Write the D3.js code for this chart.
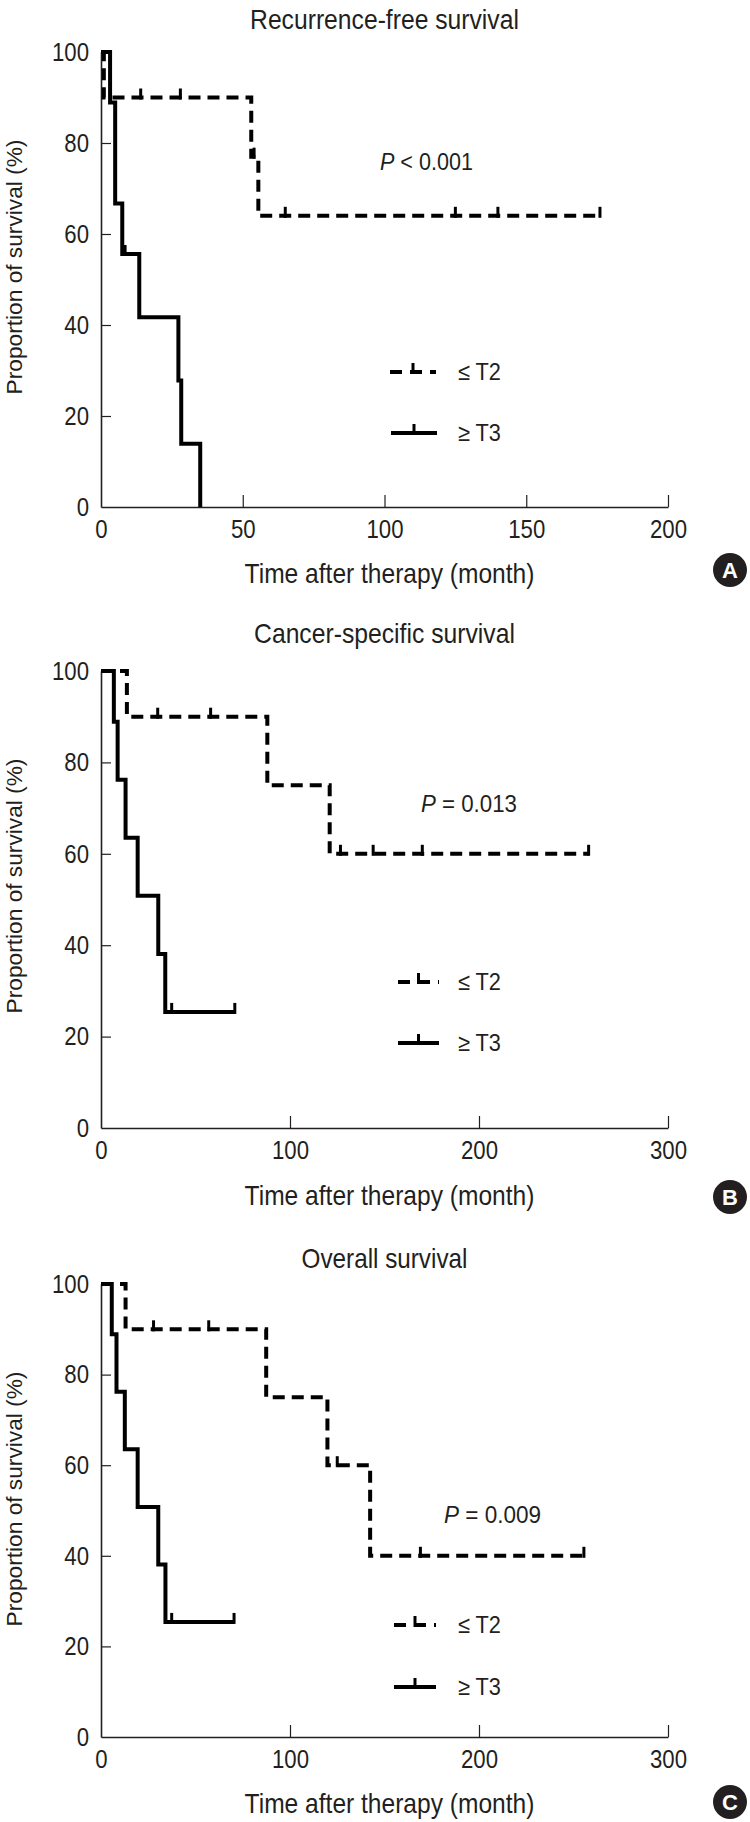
<!DOCTYPE html>
<html>
<head>
<meta charset="utf-8">
<script src="https://cdn.jsdelivr.net/npm/d3@7"></script>
<style>
  html, body { margin: 0; padding: 0; background: #fff; }
  svg { display: block; }
  .nar { font-family: "Liberation Sans", Arial, sans-serif; fill: #231f20; }
  .reg { font-family: "Liberation Sans", Arial, sans-serif; fill: #231f20; }
</style>
</head>
<body>
<svg id="chart" width="750" height="1822"></svg>
<script>
// ---------- data ----------
const panelTitles = ["Recurrence-free survival", "Cancer-specific survival", "Overall survival"];
const panelLetters = ["A", "B", "C"];
const pSymbol = "P";
const pValues = ["< 0.001", "= 0.013", "= 0.009"];
const groupLabels = ["\u2264 T2", "\u2265 T3"];
const yTicks = [0, 20, 40, 60, 80, 100];
const xTicksA = [0, 50, 100, 150, 200];
const xTicksBC = [0, 100, 200, 300];
const xAxisTitle = "Time after therapy (month)";
const yAxisTitle = "Proportion of survival (%)";

// Recurrence-free survival
const rfsT2Time = [0, 1, 53, 55.5, 176];
const rfsT2Surv = [100, 90, 77, 64, 64];
const rfsT2Censor = [14, 28, 54, 65, 125, 140, 176];
const rfsT3Time = [0, 3.2, 5, 7.5, 13.5, 27.3, 28.3, 35];
const rfsT3Surv = [100, 88.9, 66.7, 55.6, 41.7, 27.8, 13.9, 0];
const rfsT3Censor = [8.5];

// Cancer-specific survival
const cssT2Time = [0, 13.7, 88, 121, 258];
const cssT2Surv = [100, 90, 75, 60, 60];
const cssT2Censor = [30, 58, 126.7, 144, 170, 258];
const cssT3Time = [0, 6.8, 8.8, 13, 19.4, 30.3, 34, 70.8];
const cssT3Surv = [100, 88.9, 76.2, 63.5, 50.8, 38.1, 25.4, 25.4];
const cssT3Censor = [37.4, 70.8];

// Overall survival
const osT2Time = [0, 13, 87.4, 119.8, 142.4, 255.5];
const osT2Surv = [100, 90, 75, 60, 40, 40];
const osT2Censor = [27.8, 57, 125, 169, 255.5];
const osT3Time = [0, 5.7, 8.2, 12.6, 19.4, 30.3, 34.1, 70.4];
const osT3Surv = [100, 88.9, 76.2, 63.5, 50.8, 38.1, 25.4, 25.4];
const osT3Censor = [37.4, 70.4];

// ---------- layout ----------
const INK = "#231f20";
const X0 = 101, X1 = 668;
const layouts = [
  { y100: 52, y0: 507, titleY: 29, titleW: 269, xLabY: 583, circ: [730, 570], pPos: [380, 170], pW: 93,
    leg: [[390, 436, 372], [391, 437, 433]], xMax: 200, xTicks: xTicksA,
    series: [[rfsT2Time, rfsT2Surv, rfsT2Censor], [rfsT3Time, rfsT3Surv, rfsT3Censor]] },
  { y100: 671, y0: 1128, titleY: 643, titleW: 261, xLabY: 1205, circ: [730, 1197], pPos: [421, 812], pW: 96,
    leg: [[398, 439, 982], [398, 439, 1043]], xMax: 300, xTicks: xTicksBC,
    series: [[cssT2Time, cssT2Surv, cssT2Censor], [cssT3Time, cssT3Surv, cssT3Censor]] },
  { y100: 1284, y0: 1737, titleY: 1268, titleW: 166, xLabY: 1813, circ: [730, 1802], pPos: [444, 1523], pW: 97,
    leg: [[394, 436, 1625], [394, 436, 1687]], xMax: 300, xTicks: xTicksBC,
    series: [[osT2Time, osT2Surv, osT2Censor], [osT3Time, osT3Surv, osT3Censor]] }
];
const DASH = "12,7";
const LW = 4;
const CENS_H = 9;
const TICK_FS = 26, TICK_W3 = 37;   // width of a 3-digit tick label
const TITLE_FS = 27, XLAB_W = 290, YLAB_FS = 23, YLAB_W = 255, YLAB_OFF = 215;
const P_FS = 24, LEG_FS = 24, LEG_W = 43;

const svg = d3.select("#chart");
svg.append("rect").attr("width", 750).attr("height", 1822).attr("fill", "#fff");

function stepValue(times, surv, t) {
  let v = surv[0];
  for (let i = 0; i < times.length; i++) if (times[i] <= t) v = surv[i];
  return v;
}
// horizontally squeeze a text element about its anchor x so that it has the target width
function fitX(sel, target, ax) {
  const w = sel.node().getComputedTextLength();
  if (!w) return 1;
  const k = target / w;
  sel.attr("transform", `translate(${ax},0) scale(${k},1) translate(${-ax},0)`);
  return k;
}
// measure tick digit squeeze
const probe = svg.append("text").attr("class", "nar").attr("font-size", TICK_FS).text("200");
const tickK = TICK_W3 / probe.node().getComputedTextLength();
probe.remove();

layouts.forEach((L, pi) => {
  const g = svg.append("g");
  const x = d3.scaleLinear().domain([0, L.xMax]).range([X0, X1]);
  const y = d3.scaleLinear().domain([0, 100]).range([L.y0, L.y100]);

  // axes
  const xa = g.append("g").attr("transform", `translate(0,${L.y0})`)
    .call(d3.axisBottom(x).tickValues(L.xTicks).tickSize(-12).tickSizeOuter(0).tickPadding(13));
  const ya = g.append("g").attr("transform", `translate(${X0},0)`)
    .call(d3.axisLeft(y).tickValues(yTicks).tickSize(-10).tickSizeOuter(0).tickPadding(12));
  [xa, ya].forEach(a => {
    a.select(".domain").attr("stroke", INK).attr("stroke-width", 1.6);
    a.selectAll(".tick line").attr("stroke", INK).attr("stroke-width", 1.2);
    a.selectAll(".tick text").attr("class", "nar").attr("font-size", TICK_FS).attr("fill", INK);
  });
  xa.selectAll(".tick text").attr("transform", `scale(${tickK},1)`);
  ya.selectAll(".tick text").attr("transform", `translate(-12,0) scale(${tickK},1) translate(12,0)`);
  xa.selectAll(".tick").filter(d => d === 0).select("line").remove();
  ya.selectAll(".tick").filter(d => d === 0).select("line").remove();

  const cx = (X0 + X1) / 2;
  // title
  const tt = g.append("text").attr("class", "nar").attr("x", cx).attr("y", L.titleY)
    .attr("text-anchor", "middle").attr("font-size", TITLE_FS).text(panelTitles[pi]);
  fitX(tt, L.titleW, cx);
  // x-axis title
  const xl = g.append("text").attr("class", "nar").attr("x", cx + 5).attr("y", L.xLabY)
    .attr("text-anchor", "middle").attr("font-size", TITLE_FS).text(xAxisTitle);
  fitX(xl, XLAB_W, cx + 5);
  // y-axis title
  const yl = g.append("text").attr("class", "reg")
    .attr("text-anchor", "middle").attr("font-size", YLAB_FS).text(yAxisTitle);
  const ykk = YLAB_W / yl.node().getComputedTextLength();
  yl.attr("transform", `translate(22,${L.y100 + YLAB_OFF}) rotate(-90) scale(${ykk},1)`);

  // curves
  const line = d3.line().x(d => x(d[0])).y(d => y(d[1])).curve(d3.curveStepAfter);
  L.series.forEach((s, si) => {
    const [times, surv, cens] = s;
    const pts = times.map((t, i) => [t, surv[i]]);
    g.append("path").datum(pts).attr("d", line)
      .attr("fill", "none").attr("stroke", "#000").attr("stroke-width", LW)
      .attr("stroke-dasharray", si === 0 ? DASH : null);
    g.selectAll(null).data(cens).enter().append("line")
      .attr("x1", d => x(d)).attr("x2", d => x(d))
      .attr("y1", d => y(stepValue(times, surv, d)) + LW / 2)
      .attr("y2", d => y(stepValue(times, surv, d)) - CENS_H)
      .attr("stroke", "#000").attr("stroke-width", 3);
  });

  // P value
  const pt = g.append("text").attr("class", "nar").attr("x", L.pPos[0]).attr("y", L.pPos[1]).attr("font-size", P_FS);
  pt.append("tspan").attr("font-style", "italic").text(pSymbol);
  pt.append("tspan").text(" " + pValues[pi]);
  fitX(pt, L.pW, L.pPos[0]);

  // legend
  L.leg.forEach((lg, li) => {
    const [lx1, lx2, ly] = lg;
    g.append("line").attr("x1", lx1).attr("x2", lx2).attr("y1", ly).attr("y2", ly)
      .attr("stroke", "#000").attr("stroke-width", LW)
      .attr("stroke-dasharray", li === 0 ? "12,8" : null);
    const mx = (lx1 + lx2) / 2;
    g.append("line").attr("x1", mx).attr("x2", mx).attr("y1", ly + LW / 2).attr("y2", ly - CENS_H)
      .attr("stroke", "#000").attr("stroke-width", 3);
    const lt = g.append("text").attr("class", "nar").attr("x", 458).attr("y", ly + 8)
      .attr("font-size", LEG_FS).text(groupLabels[li]);
    fitX(lt, LEG_W, 458);
  });

  // panel letter
  g.append("circle").attr("cx", L.circ[0]).attr("cy", L.circ[1]).attr("r", 17).attr("fill", INK);
  g.append("text").attr("x", L.circ[0]).attr("y", L.circ[1] + 8).attr("text-anchor", "middle")
    .attr("font-family", "Liberation Sans, Arial, sans-serif").attr("font-weight", "bold")
    .attr("font-size", 22).attr("fill", "#fff").text(panelLetters[pi]);
});
</script>
</body>
</html>
